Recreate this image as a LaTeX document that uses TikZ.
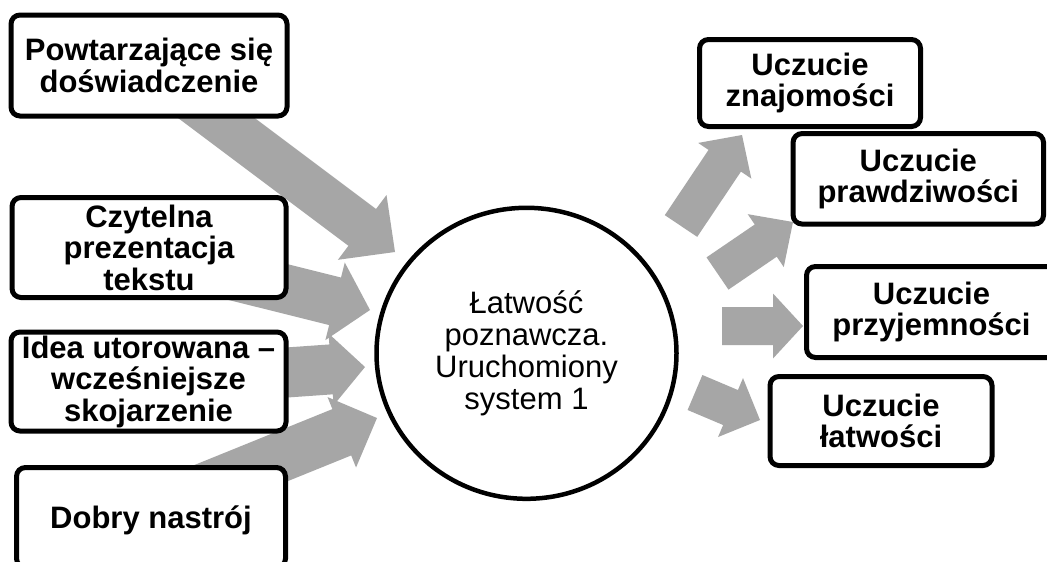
\documentclass[tikz,border=0pt]{standalone}
\usepackage{fontspec}
\setmainfont{Liberation Sans}
\usetikzlibrary{calc,shapes.geometric}
\definecolor{arrowgray}{HTML}{A6A6A6}
\tikzset{
  box/.style={draw=black, line width=5pt, rounded corners=9pt, fill=white, align=center,
    inner sep=0pt, font=\bfseries\fontsize{31}{31.5}\selectfont},
  hub/.style={ellipse, draw=black, line width=4.5pt, fill=white, align=center, inner sep=0pt,
    minimum width=300pt, minimum height=291pt, font=\fontsize{31}{32}\selectfont},
  arrowfill/.style={fill=arrowgray}
}
% block arrow: #1 tail, #2 tip, #3 half shaft width, #4 half head width, #5 head length
\newcommand{\blockarr}[5]{%
  \fill[arrowfill]
    ($(#1)!#3!90:(#2)$) --
    ($(#2)!#5!(#1)!#3!-90:(#1)$) --
    ($(#2)!#5!(#1)!#4!-90:(#1)$) --
    (#2) --
    ($(#2)!#5!(#1)!#4!90:(#1)$) --
    ($(#2)!#5!(#1)!#3!90:(#1)$) --
    ($(#1)!#3!-90:(#2)$) -- cycle;
}
\begin{document}
\begin{tikzpicture}[x=1pt,y=-1pt]
\useasboundingbox (0,0) rectangle (1047,562);
\clip (0,0) rectangle (1047,562);
\fill[white] (0,0) rectangle (1047,562);

% arrow ends
\coordinate (t1) at (155,72);    \coordinate (h1) at (395,252);
\coordinate (t2) at (127.5,249.5); \coordinate (h2) at (370,310);
\coordinate (t3) at (165.5,381); \coordinate (h3) at (365,367);
\coordinate (t4) at (145,512);   \coordinate (h4) at (377,418);
\coordinate (t5) at (681,226);   \coordinate (h5) at (742,135);
\coordinate (t6) at (717.5,273.5); \coordinate (h6) at (793,222);
\coordinate (t7) at (722,326);   \coordinate (h7) at (803,326);
\coordinate (t8) at (695,392.5); \coordinate (h8) at (760,420);

% converging arrows
\blockarr{t1}{h1}{23pt}{40.5pt}{41pt}
\blockarr{t2}{h2}{24.5pt}{40pt}{36pt}
\blockarr{t3}{h3}{25pt}{36pt}{34pt}
\blockarr{t4}{h4}{25pt}{38pt}{38pt}
% diverging arrows
\blockarr{t5}{h5}{19.5pt}{32pt}{31pt}
\blockarr{t6}{h6}{19.5pt}{32pt}{33pt}
\blockarr{t7}{h7}{19pt}{32.5pt}{30pt}
\blockarr{t8}{h8}{19pt}{32pt}{32pt}

% left boxes
\node[box, minimum width=276pt, minimum height=101pt] (b1) at (149,65.5) {Powtarzające się\\doświadczenie};
\node[box, minimum width=274pt, minimum height=100pt] (b2) at (149,247.5) {Czytelna\\prezentacja\\tekstu};
\node[box, minimum width=275pt, minimum height=99pt] (b3) at (148.5,381.5) {Idea utorowana –\\wcześniejsze\\skojarzenie};
\node[box, minimum width=269pt, minimum height=100pt, text depth=0pt] (b4) at (151,517.5) {Dobry nastrój};

% centre
\node[hub] (c) at (526.5,353.3) {Łatwość\\poznawcza.\\Uruchomiony\\system 1};

% right boxes
\node[box, minimum width=221pt, minimum height=87pt] (r1) at (810,83) {Uczucie\\znajomości};
\node[box, minimum width=250.5pt, minimum height=90.5pt] (r2) at (918.3,178.8) {Uczucie\\prawdziwości};
\node[box, minimum width=250pt, minimum height=91pt] (r3) at (931.5,312) {Uczucie\\przyjemności};
\node[box, minimum width=222pt, minimum height=89pt] (r4) at (881,421) {Uczucie\\łatwości};
\end{tikzpicture}
\end{document}
